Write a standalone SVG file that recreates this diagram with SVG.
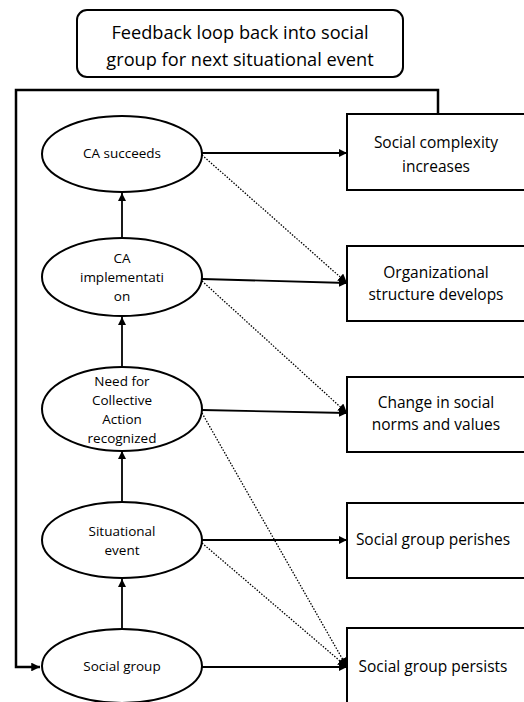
<svg xmlns="http://www.w3.org/2000/svg" width="524" height="702" viewBox="0 0 524 702">
<defs>
<style>
.n{fill:#fff;stroke:#000;stroke-width:2}
.t{font-family:"Open Sans",sans-serif;font-size:13.5px;fill:#000;text-anchor:middle}
.b{font-family:"Open Sans",sans-serif;font-size:15.5px;fill:#000;text-anchor:middle}
.h{font-family:"Open Sans",sans-serif;font-size:18.2px;fill:#000;text-anchor:middle}
.s{fill:none;stroke:#000;stroke-width:1.8}
.d{fill:none;stroke:#000;stroke-width:1.3;stroke-dasharray:1.5 1.5}
.l{fill:none;stroke:#000;stroke-width:2.5}
</style>
<marker id="a" viewBox="0 0 10 10" refX="10" refY="5" markerWidth="4.5" markerHeight="4.5" orient="auto" markerUnits="strokeWidth"><path d="M0,0L10,5L0,10z" fill="#000"/></marker>
<marker id="ad" viewBox="0 0 10 10" refX="10" refY="5" markerWidth="7" markerHeight="7" orient="auto" markerUnits="strokeWidth"><path d="M0,0L10,5L0,10z" fill="#000"/></marker>
<marker id="al" viewBox="0 0 10 10" refX="10" refY="5" markerWidth="3.5" markerHeight="3.5" orient="auto" markerUnits="strokeWidth"><path d="M0,0L10,5L0,10z" fill="#000"/></marker>
</defs>
<g id="connectors">
<path class="l" d="M438,114V90H16V667H40" marker-end="url(#al)"/>
<line class="s" x1="122" y1="628" x2="122" y2="579" marker-end="url(#a)"/>
<line class="s" x1="122" y1="503" x2="122" y2="451" marker-end="url(#a)"/>
<line class="s" x1="122" y1="367" x2="122" y2="317" marker-end="url(#a)"/>
<line class="s" x1="122" y1="237" x2="122" y2="193" marker-end="url(#a)"/>
<line class="s" x1="202" y1="153" x2="347" y2="153" marker-end="url(#a)"/>
<line class="s" x1="202" y1="279" x2="347" y2="283" marker-end="url(#a)"/>
<line class="s" x1="202" y1="410" x2="347" y2="413" marker-end="url(#a)"/>
<line class="s" x1="202" y1="540" x2="347" y2="540" marker-end="url(#a)"/>
<line class="s" x1="202" y1="667" x2="347" y2="667" marker-end="url(#a)"/>
<line class="d" x1="202" y1="155" x2="347" y2="283" marker-end="url(#ad)"/>
<line class="d" x1="202" y1="281" x2="347" y2="413" marker-end="url(#ad)"/>
<line class="d" x1="202" y1="413" x2="347" y2="667" marker-end="url(#ad)"/>
<line class="d" x1="202" y1="543" x2="347" y2="667" marker-end="url(#ad)"/>
</g>
<g id="title">
<rect class="n" x="77" y="10" width="326" height="67" rx="10"/>
<text class="h" x="240" y="39">Feedback loop back into social</text>
<text class="h" x="240" y="66">group for next situational event</text>
</g>
<g id="ca-succeeds">
<ellipse class="n" cx="122" cy="154" rx="80" ry="38"/>
<text class="t" x="122" y="158">CA succeeds</text>
</g>
<g id="ca-implementation">
<ellipse class="n" cx="122" cy="277" rx="80" ry="39"/>
<text class="t" x="122" y="263">CA</text>
<text class="t" x="122" y="282">implementati</text>
<text class="t" x="122" y="301">on</text>
</g>
<g id="need-ca">
<ellipse class="n" cx="122" cy="409" rx="80" ry="42"/>
<text class="t" x="122" y="386">Need for</text>
<text class="t" x="122" y="405">Collective</text>
<text class="t" x="122" y="424">Action</text>
<text class="t" x="122" y="443">recognized</text>
</g>
<g id="situational-event">
<ellipse class="n" cx="122" cy="540" rx="80" ry="38"/>
<text class="t" x="122" y="536">Situational</text>
<text class="t" x="122" y="555">event</text>
</g>
<g id="social-group">
<ellipse class="n" cx="122" cy="666" rx="80" ry="37"/>
<text class="t" x="122" y="671">Social group</text>
</g>
<g id="complexity">
<rect class="n" x="347" y="114" width="190" height="76"/>
<text class="b" x="436" y="148">Social complexity</text>
<text class="b" x="436" y="172">increases</text>
</g>
<g id="organizational">
<rect class="n" x="347" y="246" width="190" height="75"/>
<text class="b" x="436" y="278">Organizational</text>
<text class="b" x="436" y="300">structure develops</text>
</g>
<g id="norms">
<rect class="n" x="347" y="377" width="190" height="75"/>
<text class="b" x="436" y="408">Change in social</text>
<text class="b" x="436" y="430">norms and values</text>
</g>
<g id="perishes">
<rect class="n" x="347" y="503" width="190" height="75"/>
<text class="b" x="433" y="545">Social group perishes</text>
</g>
<g id="persists">
<rect class="n" x="347" y="628" width="190" height="90"/>
<text class="b" x="433" y="672">Social group persists</text>
</g>
</svg>
